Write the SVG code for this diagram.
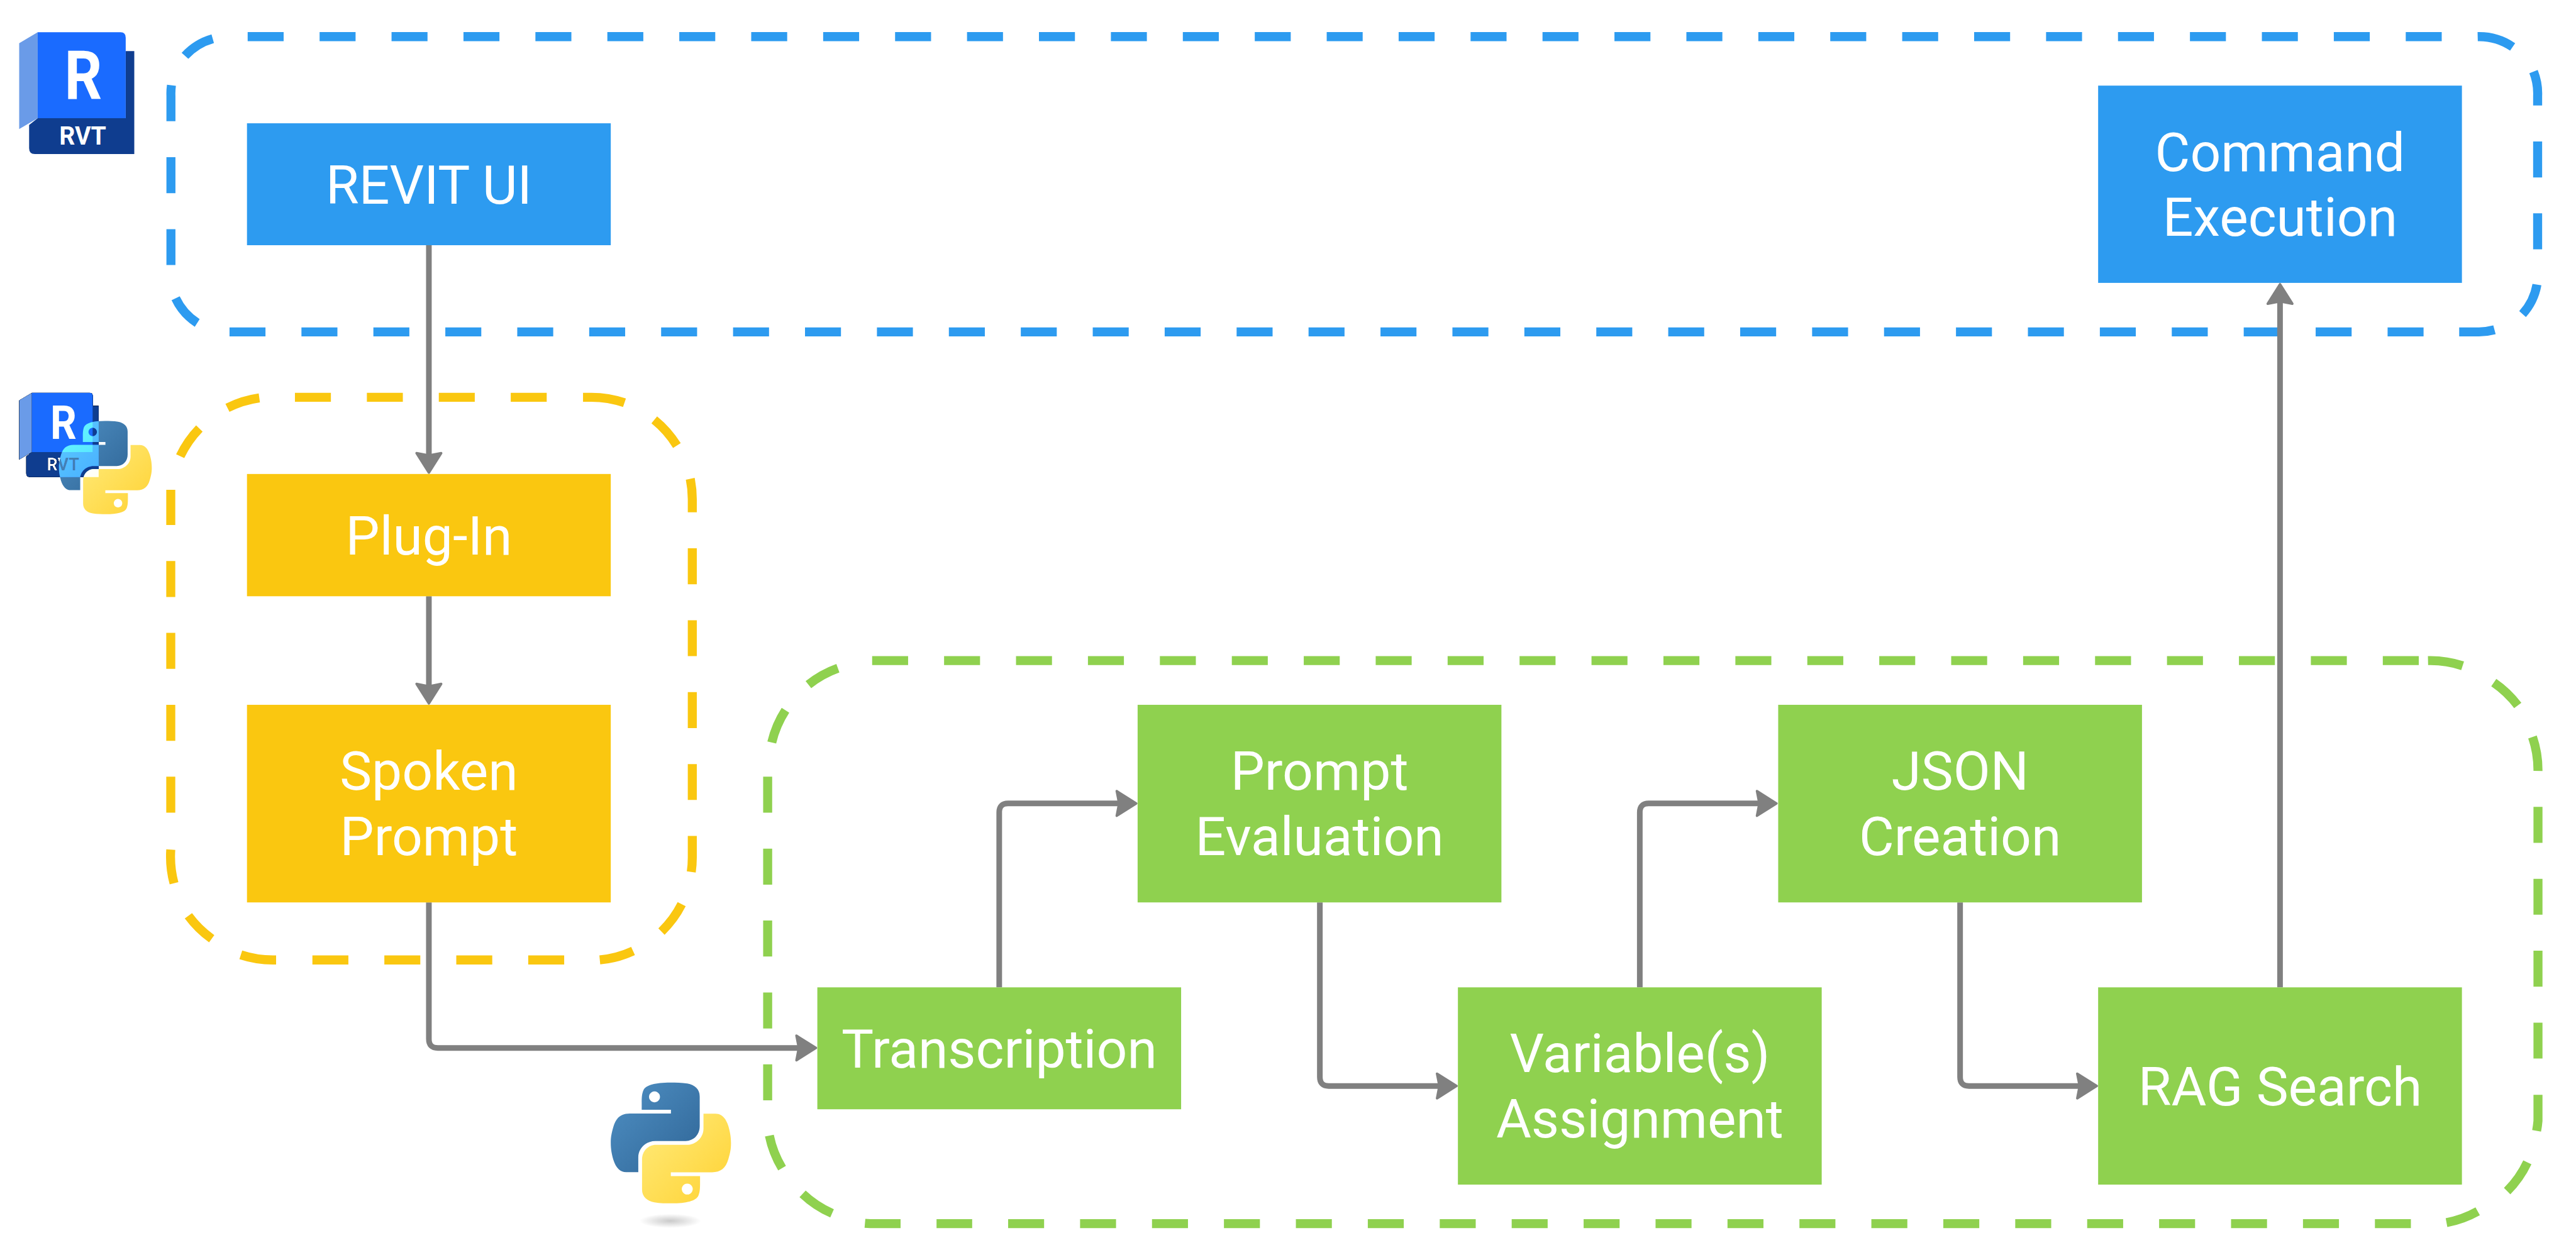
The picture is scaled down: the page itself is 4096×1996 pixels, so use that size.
<svg xmlns="http://www.w3.org/2000/svg" width="4096" height="1996" viewBox="0 0 4096 1996">
<style>
text{font-family:Roboto,"Liberation Sans",sans-serif}
.label{font-size:157.5px;fill:#fff;text-anchor:middle}
.badge{font-weight:700;fill:#fff}
.dash{fill:none;stroke-width:26.3;stroke-linecap:butt}
.side{stroke-dasharray:105 105}
.blue{stroke:#2D9BF0}.yellow{stroke:#FAC710}.green{stroke:#8FD14F}
.fblue{fill:#2D9BF0}.fyellow{fill:#FAC710}.fgreen{fill:#8FD14F}
.conn{fill:none;stroke:#808080;stroke-width:16.5;marker-end:url(#arrow)}
</style>
<defs>
<marker id="arrow" markerUnits="userSpaceOnUse" viewBox="-80 -50 100 100" refX="-40" refY="0" markerWidth="100" markerHeight="100" orient="auto">
<path d="M-61,-36 L-4,0 L-61,36 L-54,0 Z" fill="#808080" stroke="#808080" stroke-width="7" stroke-linejoin="round"/>
</marker>
<linearGradient id="pyBlue" x1="0" y1="0" x2="1" y2="1"><stop offset="0" stop-color="#4F90C4"/><stop offset="1" stop-color="#2F6596"/></linearGradient>
<linearGradient id="pyYellow" x1="0" y1="0" x2="1" y2="1"><stop offset="0" stop-color="#FFD232"/><stop offset="1" stop-color="#FFEB7C"/></linearGradient>
<radialGradient id="pyShadow"><stop offset="0" stop-color="#b8b8b8" stop-opacity=".75"/><stop offset="1" stop-color="#b8b8b8" stop-opacity="0"/></radialGradient>
<path id="snake" fill-rule="evenodd" d="M770,183 C640,183 555,205 535,250 C522,280 520,310 520,360 L520,422 L776,422 L776,455 L415,455 C340,455 295,490 272,570 C255,630 249,660 249,710 C249,770 258,810 272,860 C295,930 330,968 385,968 L490,968 L490,838 C490,760 555,695 640,695 L905,695 C975,695 1028,640 1028,565 L1028,305 C1028,240 985,205 920,192 C870,183 820,183 770,183 Z M632,260 A48,48 0 1 0 632.1,260 Z"/>
<mask id="rvtHole" maskUnits="userSpaceOnUse" x="40" y="1130" width="270" height="280">
<rect x="40" y="1130" width="270" height="280" fill="#fff"/>
<text x="137" y="1373" font-size="51" textLength="94" lengthAdjust="spacingAndGlyphs" font-weight="700" fill="#000">RVT</text>
</mask>
<path id="m-side" d="M56,1169 L93,1147 V1320 L56,1342 Z"/>
<path id="m-main" d="M93,1147 H261 Q271,1147 271,1157 V1320 H93 Z"/>
<path id="m-dark" d="M271,1185 H288 V1393 H87 Q76.5,1393 76.5,1382 V1333 L93,1320 H271 Z"/>
</defs>
<rect width="4096" height="1996" fill="#fff"/>
<g transform="scale(0.544681)">
<g id="container-revit">
<path class="dash side blue" d="M723,107 H7128 M7408,413 V728 M7075,969 H669 M499,774 V459"/>
<path class="dash blue" d="M7233,107 A173,173 0 0 1 7335,137 M7396,209 A173,173 0 0 1 7408,280 V308 M7406,831 A173,173 0 0 1 7364,917 M7282,963 A173,173 0 0 1 7235,969 H7179 M575.7,943 A173,173 0 0 1 512.7,871 M499,354 V280 A173,173 0 0 1 500.5,249 M540,163 A173,173 0 0 1 621,113"/>
</g>
<g id="container-plugin">
<path class="dash side yellow" d="M861,1160 H1597 M2021,1601 V2336 M1647,2803 H911 M498.5,2373 V1430"/>
<path class="dash yellow" d="M1702,1160 H1721 A300,300 0 0 1 1823,1176 M1910,1226 A300,300 0 0 1 1976,1301 M2015,1398 A300,300 0 0 1 2021,1460 V1496 M2021,2441 V2503 A300,300 0 0 1 2018,2546 M1990,2640 A300,300 0 0 1 1931,2720 M1848,2777 A300,300 0 0 1 1751,2803 M806,2803 H798 A300,300 0 0 1 703,2788 M618,2741 A300,300 0 0 1 550,2674 M508,2579 A300,300 0 0 1 498.5,2481 M526,1332 A300,300 0 0 1 582,1251 M664,1191 A300,300 0 0 1 757,1162"/>
</g>
<g id="container-python">
<path class="dash side green" d="M2546,1929 H7062 M7409,2356 V3092 M7038,3573 H2734 M2241,3213 V2268"/>
<path class="dash green" d="M7088,1929 A300,300 0 0 1 7189,1944 M7280,1993 A300,300 0 0 1 7350,2060 M7393,2152 A300,300 0 0 1 7409,2251 M7409,3197 V3273 A300,300 0 0 1 7405,3302 M7378,3394 A300,300 0 0 1 7319,3478 M7233,3537 A300,300 0 0 1 7142,3570 M2629,3573 H2541 A300,300 0 0 1 2525,3572 M2429,3543 A300,300 0 0 1 2343,3486 M2283,3411 A300,300 0 0 1 2246,3316 M2253,2168 A300,300 0 0 1 2293,2074 M2360,1999 A300,300 0 0 1 2446,1951"/>
</g>
<g id="connectors">
<path class="conn" d="M1252,716 V1344"/>
<path class="conn" d="M1252,1741 V2018"/>
<path class="conn" d="M1252,2635 V3034 Q1252,3060 1278,3060 H2346"/>
<path class="conn" d="M2917,2883 V2372 Q2917,2346 2943,2346 H3281"/>
<path class="conn" d="M3853,2635 V3145 Q3853,3171 3879,3171 H4216"/>
<path class="conn" d="M4787,2883 V2372 Q4787,2346 4813,2346 H5150"/>
<path class="conn" d="M5722,2635 V3145 Q5722,3171 5748,3171 H6085"/>
<path class="conn" d="M6656,2883 V866"/>
</g>
<g id="revit-ui"><rect class="fblue" x="721" y="360" width="1062" height="356"/><text class="label" x="1252" y="594">REVIT UI</text></g>
<g id="command-execution"><rect class="fblue" x="6125" y="250" width="1062" height="576"/><text class="label" x="6656" y="499">Command</text><text class="label" x="6656" y="688">Execution</text></g>
<g id="plug-in"><rect class="fyellow" x="721" y="1384" width="1062" height="357"/><text class="label" x="1252" y="1619">Plug-In</text></g>
<g id="spoken-prompt"><rect class="fyellow" x="721" y="2058" width="1062" height="577"/><text class="label" x="1252" y="2306">Spoken</text><text class="label" x="1252" y="2497">Prompt</text></g>
<g id="transcription"><rect class="fgreen" x="2386" y="2883" width="1062" height="356"/><text class="label" x="2917" y="3117">Transcription</text></g>
<g id="prompt-evaluation"><rect class="fgreen" x="3321" y="2058" width="1062" height="577"/><text class="label" x="3852" y="2306">Prompt</text><text class="label" x="3852" y="2497">Evaluation</text></g>
<g id="variable-assignment"><rect class="fgreen" x="4256" y="2883" width="1062" height="576"/><text class="label" x="4787" y="3130">Variable(s)</text><text class="label" x="4787" y="3321">Assignment</text></g>
<g id="json-creation"><rect class="fgreen" x="5191" y="2058" width="1062" height="577"/><text class="label" x="5722" y="2306">JSON</text><text class="label" x="5722" y="2497">Creation</text></g>
<g id="rag-search"><rect class="fgreen" x="6125" y="2883" width="1062" height="576"/><text class="label" x="6656" y="3227">RAG Search</text></g>
<g id="logo-revit">
<path fill="#0F3D8F" d="M367,149 H392 V450 H102 Q85,450 85,433 V365 L110,345 H367 Z"/>
<path fill="#6A9BE8" d="M56,126 L110,94 V345 L56,377 Z"/>
<path fill="#1A6BFF" d="M110,94 H352 Q367,94 367,110 V345 H110 Z"/>
<text class="badge" x="188" y="289" font-size="197" textLength="110" lengthAdjust="spacingAndGlyphs">R</text>
<text class="badge" x="173" y="422" font-size="74.5" textLength="137" lengthAdjust="spacingAndGlyphs">RVT</text>
</g>
<g id="logo-revit-python" style="isolation:isolate">
<g mask="url(#rvtHole)" fill="#000"><use href="#m-dark"/><use href="#m-side"/><use href="#m-main"/></g>
<g transform="translate(108,1182) scale(.2574)">
<use href="#snake" fill="url(#pyBlue)"/>
<use href="#snake" fill="url(#pyYellow)" transform="rotate(180 775.5 712)"/>
</g>
<g mask="url(#rvtHole)" style="mix-blend-mode:plus-lighter">
<use href="#m-dark" fill="#0F3D8F"/><use href="#m-side" fill="#6A9BE8"/><use href="#m-main" fill="#1A6BFF"/>
</g>
<text class="badge" x="147" y="1282" font-size="136" textLength="77" lengthAdjust="spacingAndGlyphs">R</text>
</g>
<g id="logo-python" transform="translate(1700,3100) scale(.3333)">
<ellipse cx="770" cy="1395" rx="270" ry="62" fill="url(#pyShadow)"/>
<use href="#snake" fill="url(#pyBlue)"/>
<use href="#snake" fill="url(#pyYellow)" transform="rotate(180 775.5 712)"/>
</g>
</g>
</svg>
